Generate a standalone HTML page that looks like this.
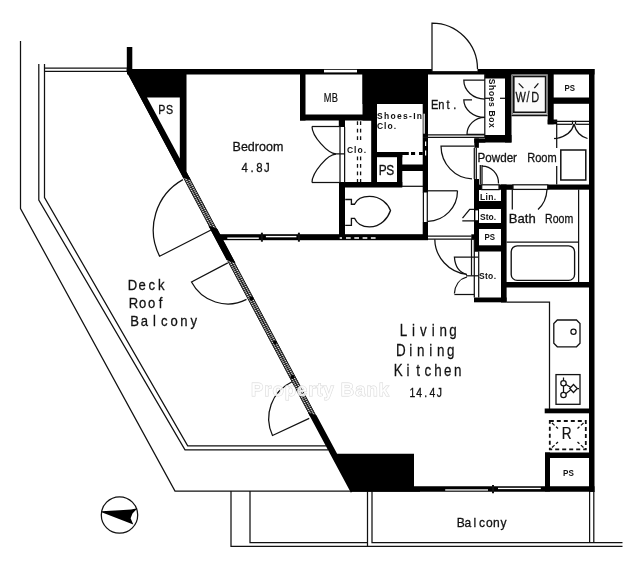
<!DOCTYPE html>
<html><head><meta charset="utf-8">
<style>
html,body{margin:0;padding:0;background:#fff;}
body{width:640px;height:569px;overflow:hidden;font-family:"Liberation Sans",sans-serif;}
svg{display:block;will-change:transform;}
text{font-family:"Liberation Sans",sans-serif;fill:#111;}
.t{stroke:#111;stroke-width:1.25;fill:none;}
.k{fill:#000;stroke:none;}
.w{fill:#fff;stroke:none;}
.b{font-weight:bold;}
</style></head><body>
<svg width="640" height="569" viewBox="0 0 640 569">
<defs>
<pattern id="hat" width="2" height="2" patternUnits="userSpaceOnUse" patternTransform="rotate(-25)">
<rect width="2" height="2" fill="#fff"/><rect width="2" height="1.15" fill="#222"/>
</pattern>
</defs>
<rect width="640" height="569" fill="#fff"/>

<!-- ===== deck / balcony thin outlines ===== -->
<g class="t">
<polyline points="20.5,41 20.5,208.5 175,491 352,491"/>
<polyline points="38.8,64 38.8,200 185,449.9 328,449.9"/>
<polyline points="44.5,64 44.5,197.5 187.7,445.9 326,445.9"/>
<line x1="44.5" y1="68.2" x2="127" y2="68.2"/>
<line x1="44.5" y1="71.4" x2="128" y2="71.4"/>
<polyline points="231,491 231,546.3 622.5,546.3"/>
<polyline points="250,491 250,542.5 367.5,542.5"/>
<line x1="367.5" y1="491" x2="367.5" y2="546"/>
<polyline points="372,491 372,542.5 622.5,542.5"/>
<line x1="589.6" y1="491" x2="589.6" y2="542.5"/>
<line x1="593.8" y1="491" x2="593.8" y2="542.5"/>
<line x1="352" y1="491" x2="420" y2="491"/>
</g>

<!-- ===== main diagonal wall ===== -->
<g id="diag">
<polygon class="k" points="126.8,69 186.3,69 186.3,171.6 190.8,180 183.0,177.5 126.8,72"/>
<polygon class="w" points="147.0,97.5 179.8,97.5 179.8,158.5"/>
<rect class="k" x="126.8" y="47" width="5.5" height="25"/>
<polygon fill="url(#hat)" points="182.8,177 189.2,177 216.9,229 210.5,229"/>
<line x1="183.2" y1="177" x2="210.9" y2="229" stroke="#111" stroke-width="0.95"/>
<line x1="186.0" y1="177" x2="213.7" y2="229" stroke="#111" stroke-width="0.95"/>
<line x1="188.8" y1="177" x2="216.5" y2="229" stroke="#111" stroke-width="0.95"/>
<polygon class="k" points="126.8,69 186.3,69 186.3,171.6 190.8,180 183.0,177.5 126.8,72"/>
<polygon class="w" points="147.0,97.5 179.8,97.5 179.8,158.5"/>
<polygon class="k" points="208.6,226 217.3,229 235.4,263 226.7,260"/>
<polygon fill="url(#hat)" points="227.5,261 233.9,261 316.4,416 310.0,416"/>
<line x1="227.9" y1="261" x2="310.4" y2="416" stroke="#111" stroke-width="0.95"/>
<line x1="230.7" y1="261" x2="313.2" y2="416" stroke="#111" stroke-width="0.95"/>
<line x1="233.5" y1="261" x2="316.0" y2="416" stroke="#111" stroke-width="0.95"/>
<polygon class="k" points="208.6,226 217.3,229 235.4,263 226.7,260"/>
<polygon class="k" points="307.9,412.5 316.6,415.5 337.1,453.7 414,453.7 414,486.2 594.5,486.2 594.5,491.8 352,491.8 350.8,492.8 350.8,492.6"/>
</g>

<!-- ===== thick walls ===== -->
<g class="k" id="walls">
<rect x="127" y="69" width="467.5" height="5.5"/>
<rect x="589" y="69" width="5.5" height="422.8"/>
<!-- MB box -->
<rect x="300" y="74" width="5.5" height="46.5"/>
<rect x="300" y="114.5" width="76" height="6"/>
<!-- block right of MB / above shoes-in -->
<rect x="362.5" y="69" width="14" height="51.5"/>
<rect x="362.5" y="69" width="65.5" height="35"/>
<rect x="338.8" y="120" width="6.2" height="7"/>
<!-- wall Clo / Shoes-in -->
<rect x="371.2" y="104" width="5.8" height="83"/>
<!-- wall shoes-in / ent+hall -->
<rect x="422.7" y="104" width="5.3" height="88.5"/>
<rect x="422.7" y="222" width="5.3" height="17.5"/>
<!-- shoes-in bottom -->
<rect x="377" y="152" width="25.5" height="5.2"/>
<rect x="397" y="157" width="5.3" height="30"/>
<rect x="402" y="164.5" width="21" height="6.5"/>
<rect x="339" y="182" width="63.3" height="5.5"/>
<!-- toilet -->
<rect x="339" y="182" width="6" height="58"/>
<rect x="216" y="234.2" width="212" height="6"/>
<!-- shoes box -->
<rect x="505" y="69" width="6.5" height="73.5"/>
<rect x="485" y="135" width="26.5" height="7.5"/>
<rect x="485" y="74" width="20" height="4.5"/>
<!-- right of W/D -->
<rect x="547.7" y="69" width="6" height="55.3"/>
<rect x="547.7" y="119.5" width="9.5" height="4.8"/>
<rect x="553" y="97.5" width="36" height="6.3"/>
<!-- hall right / column -->
<rect x="474.3" y="138.4" width="4.6" height="9.4"/>
<rect x="474.3" y="138.4" width="11" height="4.4"/>
<rect x="474" y="179" width="5" height="72.5"/>
<rect x="471.3" y="234.3" width="3.5" height="5.4"/>
<rect x="501" y="184.5" width="5.6" height="118"/>
<rect x="474" y="184.5" width="7.7" height="5.5"/>
<rect x="499" y="184.5" width="14" height="5.3"/>
<rect x="474" y="201" width="32" height="8"/>
<rect x="474" y="223" width="32" height="6"/>
<rect x="474" y="245.3" width="32" height="6.2"/>
<rect x="474" y="297.5" width="32.6" height="4.8"/>
<!-- bath -->
<rect x="547.7" y="184.5" width="42" height="5.2"/>
<rect x="506" y="282" width="88" height="5.5"/>
<!-- kitchen -->
<rect x="544.7" y="408.5" width="45" height="4.8"/>
<rect x="545" y="452.5" width="5" height="39"/>
<rect x="545" y="452.5" width="45" height="5.5"/>
</g>
<!-- white openings in walls -->
<g class="w">
<rect x="324" y="69.8" width="33" height="2.6"/>
<rect x="432" y="68" width="45.5" height="3.4"/>
<rect x="227.3" y="237.5" width="31.5" height="1.4"/>
<rect x="265.9" y="235.9" width="30.5" height="1.4"/>
<rect x="445.2" y="489.3" width="42.8" height="1.3"/>
<rect x="498" y="487.8" width="42.8" height="1.3"/>
<rect x="423.5" y="113.7" width="1.3" height="20"/>
<rect x="425" y="141.5" width="1.2" height="4.5"/>
<rect x="425" y="150.5" width="1.2" height="5"/>
<rect x="475.4" y="210.4" width="2.6" height="9.8"/>
</g>

<!-- ===== thin details ===== -->
<g class="t" id="thin">
<!-- entrance door -->
<path d="M432,72 L432,23 A45.5,46 0 0 1 477.5,69"/>
<line x1="432" y1="71.8" x2="477.5" y2="71.8"/>
<!-- MB interior outline not needed -->
<!-- bedroom closet -->
<line x1="340" y1="127" x2="340" y2="182.5"/>
<line x1="344.6" y1="127" x2="344.6" y2="182.5"/>
<line x1="312" y1="126.5" x2="340" y2="126.5"/>
<line x1="312" y1="182.5" x2="340" y2="182.5"/>
<path d="M312,126.5 C312,136 327.6,153.8 336,153.8 L345,153.8"/>
<path d="M312,182.5 C312,172.5 327.6,154.2 336,154.2"/>
<!-- clo dashed double -->
<path d="M357.5,121.3V143M357.5,156.5V182" stroke-dasharray="3.7 3.8" stroke-width="1.3"/>
<path d="M360.6,121.3V143M360.6,156.5V182" stroke-dasharray="3.7 3.8" stroke-width="1.3"/>
<!-- shoes-in dashed -->
<path d="M402,153.5H408.8M411,153.5H415.1M419,153.5H422.8" stroke-width="3" stroke="#000"/>
<!-- small box right of PS -->
<line x1="402" y1="186.3" x2="423" y2="186.3"/>
<!-- Ent bottom double line -->
<line x1="428" y1="134.8" x2="485" y2="134.8"/>
<line x1="423" y1="137.3" x2="485" y2="137.3"/>
<!-- shoes box -->
<line x1="484.8" y1="74" x2="484.8" y2="137"/>
<path d="M484.8,80 L463.8,80 A21,19 0 0 0 484.8,99"/>
<path d="M472,99.8 L463.8,99.8 A21,17.5 0 0 0 484.8,117.3"/>
<path d="M484.8,117.3 A18,17 0 0 0 467,134.3 L484.8,134.3"/>
<line x1="484.8" y1="98.3" x2="490" y2="98.3"/>
<line x1="500" y1="98.3" x2="505" y2="98.3"/>
<!-- W/D -->
<rect x="512.4" y="75" width="34.8" height="39.3" stroke="#666" stroke-width="0.9"/>
<rect x="513.8" y="76.5" width="31.8" height="35.8" stroke-width="1.6" fill="#fbfbfb"/>
<line x1="511.5" y1="115.6" x2="547.7" y2="115.6"/>
<line x1="518.7" y1="83.4" x2="523.4" y2="88.1"/>
<line x1="538.4" y1="83.4" x2="534.3" y2="88.1"/>
<!-- powder closet -->
<line x1="553.7" y1="121.3" x2="589" y2="121.3"/>
<line x1="557" y1="124.3" x2="572.5" y2="124.3"/>
<line x1="575.5" y1="124.3" x2="589" y2="124.3"/>
<line x1="572.5" y1="120.8" x2="572.5" y2="124"/>
<line x1="575.5" y1="120.8" x2="575.5" y2="124"/>
<path d="M574,124 C572,132 566,136.5 556.5,138.5"/>
<path d="M574,124 C576,132 580,136.5 587.5,138.5"/>
<line x1="554" y1="138.5" x2="557" y2="138.5"/>
<line x1="556.7" y1="124" x2="556.7" y2="148"/>
<line x1="556.7" y1="166" x2="556.7" y2="184.5"/>
<rect x="560.8" y="150" width="25" height="30" stroke-width="1.5"/>
<!-- hall door -->
<path d="M474,146 L441,146 A32,33 0 0 0 472,178.8"/>
<line x1="474.3" y1="148" x2="474.3" y2="179"/>
<line x1="476.3" y1="148" x2="476.3" y2="179"/>
<!-- powder small door -->
<line x1="480.3" y1="165" x2="480.3" y2="184.5"/>
<line x1="482" y1="165" x2="482" y2="184.5"/>
<path d="M482,166 A16.5,17 0 0 1 498.5,183.5"/>
<rect x="481.7" y="184.8" width="17.3" height="4.8"/>
<!-- bath door opening -->
<rect x="513" y="184.8" width="34.7" height="4.6"/>
<line x1="512.3" y1="189.5" x2="512.3" y2="209.5"/>
<path d="M547,189.5 C546.5,199 543,205 538,209.5"/>
<!-- bath -->
<line x1="578.6" y1="189.5" x2="578.6" y2="282"/>
<line x1="506.6" y1="242.2" x2="578.6" y2="242.2"/>
<rect x="511.2" y="245.8" width="63.4" height="34.6" rx="6" ry="6" stroke-width="1.35"/>
<!-- toilet door -->
<line x1="423.4" y1="192" x2="423.4" y2="222"/>
<line x1="427.3" y1="192" x2="427.3" y2="222"/>
<line x1="427.5" y1="190.8" x2="457.5" y2="190.8"/>
<path d="M457.5,190.8 A30,30.5 0 0 1 428,221.3"/>
<!-- toilet -->
<path d="M345.2,199.5 L351.4,199.5 L351.4,204.2 L354.5,204.2 C357,199 362,196.4 369.4,196.4 C381,196.4 388,204 390.5,210.5 C388,218 381,226.9 369.4,226.9 C362,226.9 357,224 354.5,218.3 L351.4,218.3 L351.4,225.3 L345.2,225.3" stroke-width="1.35"/>
<!-- LDK door -->
<line x1="428" y1="236" x2="471.5" y2="236"/>
<line x1="428" y1="239.2" x2="474" y2="239.2"/>
<path d="M434.8,239.2 A36.7,36 0 0 0 467,274.5"/>
<line x1="471.5" y1="239" x2="471.5" y2="275.5"/>
<line x1="474.3" y1="239" x2="474.3" y2="297.5"/>
<line x1="478.7" y1="251.5" x2="478.7" y2="297.5"/>
<!-- storage doors -->
<path d="M478,257 L454.4,257 C455,266 459,272.5 467,274.5"/>
<line x1="466" y1="275.8" x2="478.5" y2="275.8"/>
<path d="M467,277 C459,279 455,286 454.4,293.5"/>
<line x1="454.4" y1="294.5" x2="474.3" y2="294.5"/>
<!-- upper Sto small door -->
<path d="M474.4,209.3 L469.7,209.3 L462.5,218.2 M462.3,220.8 L474.4,220.8"/>
<!-- kitchen counter -->
<polyline points="506.5,302 549.5,302 549.5,409"/>
<!-- sink -->
<path d="M557.3,320 L576.5,320 L580,323.5 L580,343.3 L576.5,346.8 L557.3,346.8 L553.8,343.3 L553.8,323.5 Z" stroke-width="1.3"/>
<circle cx="573.5" cy="331.8" r="2.6"/>
<!-- stove -->
<rect x="556" y="374.6" width="24" height="29.7" stroke-width="1.3"/>
<circle cx="563.5" cy="383.2" r="2.7"/>
<circle cx="563.5" cy="395" r="2.7"/>
<path d="M573.5,384.5 L577.3,388.5 L573.5,392.5 L569.7,388.5 Z"/>
<path d="M563.5,377.5 L563.5,380.5 M563.5,386 L563.5,392.2 M566,393.5 L570.5,390 M566,384.5 L570.5,387.3 M577.3,388.5 L579,388.5"/>
<!-- fridge -->
<rect x="549.8" y="421" width="36" height="28.4" stroke-dasharray="4 3" stroke-width="1.8"/>
<path d="M552,423 L558,428.5 M583.5,423 L577.5,428.5 M552,447.5 L558,442 M583.5,447.5 L577.5,442" stroke-dasharray="3.5 2"/>
<!-- sliding door markers -->
<line x1="261.9" y1="232.7" x2="261.9" y2="241.7" stroke-width="2"/>
<line x1="298.9" y1="232.7" x2="298.9" y2="241.7" stroke-width="2"/>
<line x1="493" y1="485" x2="493" y2="493.3" stroke-width="2"/>
<!-- toilet wall dashes -->
<path d="M339.7,238H342M346,238H376.5" stroke="#fff" stroke-dasharray="4.7 3.6" stroke-width="1.3"/>
<!-- deck doors -->
<path d="M211,230 L159.6,256.2 A57.7,57.7 0 0 1 182.9,179.6"/>
<path d="M227.8,262.9 L191.5,282.0 A41,41 0 0 0 246.5,299.4"/>
<path d="M309.2,418.4 L272.5,435.5 A40.5,40.5 0 0 1 292.1,381.7"/>
</g>
<!-- markers on diagonal -->
<g class="k">
<circle cx="251.5" cy="298.5" r="2"/>
<circle cx="275" cy="342.5" r="1.8"/>
<circle cx="292.5" cy="377" r="2"/>
</g>
<!-- compass -->
<g>
<circle cx="119.5" cy="515" r="18.2" class="t"/>
<polygon class="k" points="101.6,511.2 119.5,510.2 131,509.6 137.5,508.3 132.5,513.5 130.6,518.2 133.3,524.6 101.6,512.2"/>
</g>
<!-- ===== text ===== -->
<g id="txt">
<text transform="scale(0.85,1)" text-anchor="middle" x="190.44 199.56" y="114.5" font-size="12.57" stroke="#111" stroke-width="0.3">PS</text>
<text x="232.6" y="150.6" font-size="13.41" textLength="50.7" lengthAdjust="spacingAndGlyphs" stroke="#111" stroke-width="0.3">Bedroom</text>
<text transform="scale(0.85,1)" text-anchor="middle" x="287.87 296.54 305.22 313.90" y="172" font-size="13.41" stroke="#111" stroke-width="0.3">4.8J</text>
<text transform="scale(0.7,1)" text-anchor="middle" x="468.04 478.39" y="102" font-size="13.27" stroke="#111" stroke-width="0.25">MB</text>
<text transform="scale(0.85,1)" text-anchor="middle" x="450.29 459.12" y="175" font-size="13.97" stroke="#111" stroke-width="0.3">PS</text>
<text transform="scale(0.85,1)" text-anchor="middle" x="511.54 519.34 527.13 534.93" y="109" font-size="12.99" stroke="#111" stroke-width="0.3">Ent.</text>
<text transform="scale(0.75,1)" text-anchor="middle" x="694.22 704.00 713.78" y="102" font-size="14.66" stroke="#111" stroke-width="0.25">W/D</text>
<text x="477.5" y="161.7" font-size="13.41" textLength="39.5" lengthAdjust="spacingAndGlyphs" stroke="#111" stroke-width="0.3">Powder</text>
<text x="527.2" y="161.7" font-size="13.41" textLength="29.5" lengthAdjust="spacingAndGlyphs" stroke="#111" stroke-width="0.3">Room</text>
<text x="508.8" y="222.8" font-size="13.41" textLength="26.9" lengthAdjust="spacingAndGlyphs" stroke="#111" stroke-width="0.3">Bath</text>
<text x="545" y="222.8" font-size="13.41" textLength="28.2" lengthAdjust="spacingAndGlyphs" stroke="#111" stroke-width="0.3">Room</text>
<text transform="scale(0.8,1)" text-anchor="middle" x="504.32 516.72 529.11 541.51 553.91 566.30" y="335.6" font-size="16.76" stroke="#111" stroke-width="0.25">Living</text>
<text transform="scale(0.8,1)" text-anchor="middle" x="501.09 513.53 525.97 538.41 550.84 563.28" y="356.5" font-size="16.76" stroke="#111" stroke-width="0.25">Dining</text>
<text transform="scale(0.8,1)" text-anchor="middle" x="497.71 510.12 522.53 534.94 547.35 559.76 572.17" y="376.4" font-size="16.76" stroke="#111" stroke-width="0.25">Kitchen</text>
<text transform="scale(0.8,1)" text-anchor="middle" x="515.45 523.85 532.25 540.65 549.05" y="397.2" font-size="12.99" stroke="#111" stroke-width="0.3">14.4J</text>
<text transform="scale(0.85,1)" text-anchor="middle" x="155.97 167.21 178.44 189.68" y="289.7" font-size="15.36" stroke="#111" stroke-width="0.3">Deck</text>
<text transform="scale(0.85,1)" text-anchor="middle" x="156.99 167.66 178.34 189.01" y="308.3" font-size="15.36" stroke="#111" stroke-width="0.3">Roof</text>
<text transform="scale(0.85,1)" text-anchor="middle" x="158.39 170.01 181.62 193.24 204.85 216.46 228.08" y="326.3" font-size="15.36" stroke="#111" stroke-width="0.3">Balcony</text>
<text transform="scale(0.9,1)" text-anchor="middle" x="511.86 519.79 527.73 535.67 543.60 551.54 559.48" y="527.3" font-size="13.41" stroke="#111" stroke-width="0.3">Balcony</text>
<text transform="scale(0.85,1)" text-anchor="middle" x="666.76" y="439.3" font-size="16.06" stroke="#111" stroke-width="0.2">R</text>
<text x="377" y="119.3" font-size="8.5" textLength="45" lengthAdjust="spacing" class="b">Shoes-In</text>
<text x="377" y="128.9" font-size="8.5" textLength="19" lengthAdjust="spacing" class="b">Clo.</text>
<text x="347" y="152.9" font-size="8.5" textLength="19" lengthAdjust="spacing" class="b">Clo.</text>
<text x="564.4" y="90.6" font-size="9.5" textLength="10.5" lengthAdjust="spacingAndGlyphs" class="b">PS</text>
<text x="480" y="199.5" font-size="8.5" textLength="16" lengthAdjust="spacing" class="b">Lin.</text>
<text x="480" y="219.5" font-size="8.5" textLength="16" lengthAdjust="spacingAndGlyphs" class="b">Sto.</text>
<text x="484.5" y="240.2" font-size="9" textLength="10.5" lengthAdjust="spacingAndGlyphs" class="b">PS</text>
<text x="479" y="279" font-size="8.5" textLength="17" lengthAdjust="spacing" class="b">Sto.</text>
<text x="563" y="476" font-size="9" textLength="10.8" lengthAdjust="spacingAndGlyphs" class="b">PS</text>
<text font-size="8.5" class="b" textLength="49" lengthAdjust="spacing" transform="translate(488.5,78.8) rotate(90)">Shoes Box</text>
</g>
<text x="251" y="396.3" font-size="18.5" font-weight="bold" textLength="138" lengthAdjust="spacing" style="fill:#fff;fill-opacity:0.78;stroke:#d6d6d6;stroke-width:0.9;paint-order:stroke">Property Bank</text>
</svg>
</body></html>
